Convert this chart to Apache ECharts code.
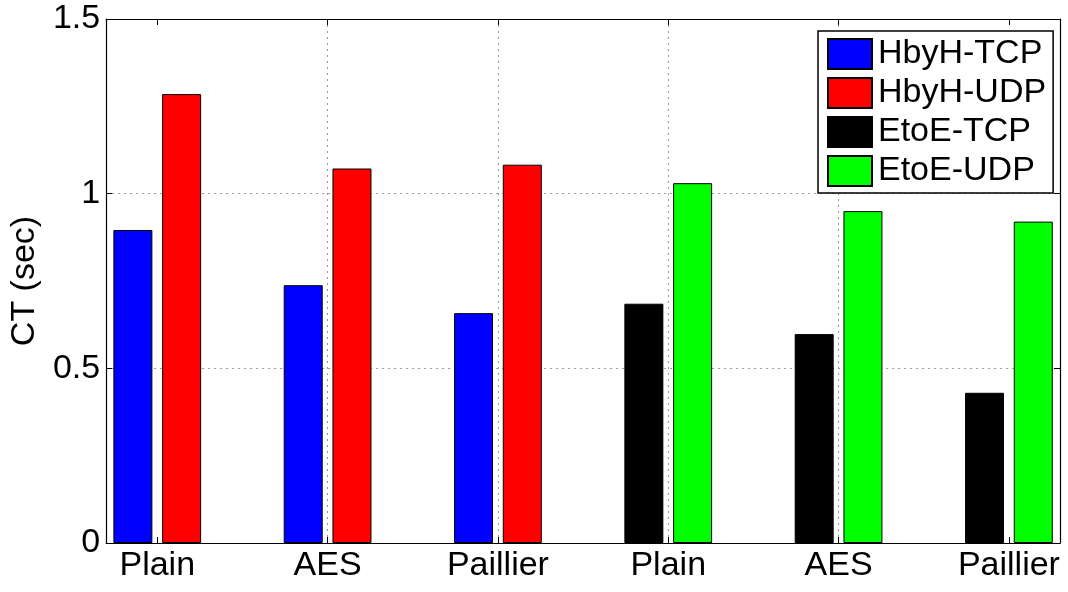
<!DOCTYPE html>
<html>
<head>
<meta charset="utf-8">
<script src="https://cdn.jsdelivr.net/npm/echarts@6/dist/echarts.min.js"></script>
<style>
html,body{margin:0;padding:0;background:#fff;}
#chart{width:1068px;height:592px;}
</style>
</head>
<body>
<div id="chart"></div>
<script>
// ---- data ----
const categories = ['Plain', 'AES', 'Paillier', 'Plain', 'AES', 'Paillier'];
const seriesNames = ['HbyH-TCP', 'HbyH-UDP', 'EtoE-TCP', 'EtoE-UDP'];
const hbyhTcp = [0.896, 0.738, 0.658, null, null, null];
const hbyhUdp = [1.285, 1.072, 1.083, null, null, null];
const etoeTcp = [null, null, null, 0.685, 0.598, 0.430];
const etoeUdp = [null, null, null, 1.030, 0.950, 0.920];
const yTicks = [0, 0.5, 1, 1.5];

const colors = ['#0000ff', '#ff0000', '#000000', '#00ff00'];
const stacks = ['tcp', 'udp', 'tcp', 'udp'];
const values = [hbyhTcp, hbyhUdp, etoeTcp, etoeUdp];
const positions = categories.map((c, i) => i + 1);

const FONT = 'Liberation Sans, Arial, Helvetica, sans-serif';
const FS = 34;

const gridStyle = { show: true, showMinLine: false, showMaxLine: false,
  lineStyle: { color: '#9a9a9a', width: 1, type: [2, 4] } };

const chart = echarts.init(document.getElementById('chart'), null, { renderer: 'canvas' });
chart.setOption({
  animation: false,
  backgroundColor: '#ffffff',
  grid: { left: 106, right: 8, top: 19, bottom: 49, containLabel: false },
  legend: {
    orient: 'vertical',
    left: 818, top: 31,
    padding: [6, 7, 5, 9],
    itemWidth: 44, itemHeight: 30, itemGap: 5,
    backgroundColor: '#ffffff',
    borderColor: '#000000', borderWidth: 1.5,
    icon: 'rect',
    data: seriesNames,
    textStyle: { fontFamily: FONT, fontSize: FS, color: '#000', lineHeight: 30, padding: [0, 0, 0, 1] }
  },
  xAxis: [
    {
      type: 'value', min: 0.7, max: 6.3, position: 'bottom',
      axisLine: { show: true, onZero: false, lineStyle: { color: '#000', width: 1.2 } },
      axisTick: { show: true, inside: true, length: 6, customValues: positions, lineStyle: { color: '#000' } },
      axisLabel: { show: true, customValues: positions, margin: 6, color: '#000', fontFamily: FONT, fontSize: FS,
        formatter: v => categories[Math.round(v) - 1] },
      splitLine: gridStyle
    },
    {
      type: 'value', min: 0.7, max: 6.3, position: 'top',
      axisLine: { show: true, onZero: false, lineStyle: { color: '#000', width: 1.2 } },
      axisTick: { show: true, inside: true, length: 6, customValues: positions, lineStyle: { color: '#000' } },
      axisLabel: { show: false },
      splitLine: { show: false }
    }
  ],
  yAxis: [
    {
      type: 'value', min: yTicks[0], max: yTicks[yTicks.length - 1], interval: 0.5, position: 'left',
      name: 'CT (sec)', nameLocation: 'middle', nameGap: 59,
      nameTextStyle: { fontFamily: FONT, fontSize: FS, color: '#000' },
      axisLine: { show: true, onZero: false, lineStyle: { color: '#000', width: 1.2 } },
      axisTick: { show: true, inside: true, length: 6, lineStyle: { color: '#000' } },
      axisLabel: { show: true, margin: 6, color: '#000', fontFamily: FONT, fontSize: FS,
        formatter: v => String(v) },
      splitLine: gridStyle
    },
    {
      type: 'value', min: yTicks[0], max: yTicks[yTicks.length - 1], interval: 0.5, position: 'right',
      axisLine: { show: true, onZero: false, lineStyle: { color: '#000', width: 1.2 } },
      axisTick: { show: true, inside: true, length: 6, lineStyle: { color: '#000' } },
      axisLabel: { show: false },
      splitLine: { show: false }
    }
  ],
  series: seriesNames.map((name, si) => ({
    name: name,
    type: 'bar',
    xAxisIndex: 0,
    yAxisIndex: 0,
    stack: stacks[si],
    barWidth: 39,
    barGap: '25%',
    itemStyle: { color: colors[si], borderColor: '#000', borderWidth: 1 },
    data: positions.map((p, i) => [p, values[si][i] === null ? '-' : values[si][i]])
  }))
});
</script>
</body>
</html>
